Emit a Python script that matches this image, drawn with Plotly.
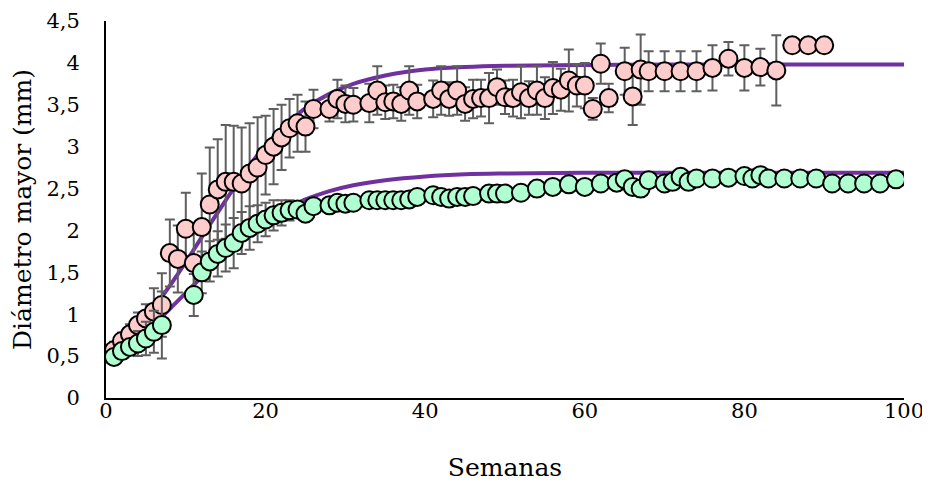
import plotly.graph_objects as go

# Pink series (weeks, mean diameter, error)
pink_weeks = [1, 2, 3, 4, 5, 6, 7, 8, 9, 10, 11, 12, 13, 14, 15, 16, 17, 18, 19, 20,
              21, 22, 23, 24, 25, 26, 28, 29, 30, 31, 33, 34, 35, 36, 37, 38, 39,
              41, 42, 43, 44, 45, 46, 47, 48, 49, 50, 51, 52, 53, 54, 55, 56, 57,
              58, 59, 60, 61, 62, 63, 65, 66, 67, 68, 70, 72, 74, 76, 78, 80, 82,
              84, 86, 88, 90]
pink_vals = [0.57, 0.68, 0.76, 0.87, 0.95, 1.03, 1.11, 1.73, 1.66, 2.02, 1.61, 2.04,
             2.31, 2.49, 2.58, 2.58, 2.56, 2.68, 2.75, 2.9, 3.0, 3.11, 3.22, 3.28,
             3.24, 3.45, 3.45, 3.57, 3.51, 3.5, 3.52, 3.67, 3.53, 3.54, 3.51, 3.67,
             3.54, 3.57, 3.67, 3.57, 3.67, 3.51, 3.57, 3.58, 3.58, 3.71, 3.59, 3.58,
             3.65, 3.58, 3.67, 3.58, 3.7, 3.68, 3.79, 3.73, 3.73, 3.45, 3.99, 3.58,
             3.9, 3.6, 3.92, 3.9, 3.9, 3.9, 3.9, 3.94, 4.05, 3.94, 3.95, 3.91,
             4.21, 4.21, 4.21]
pink_err = [0.1, 0.1, 0.12, 0.15, 0.17, 0.28, 0.38, 0.4, 0.4, 0.43, 0.45, 0.64,
            0.68, 0.6, 0.68, 0.67, 0.67, 0.6, 0.6, 0.47, 0.45, 0.39, 0.35, 0.34,
            0.3, 0.23, 0.15, 0.23, 0.22, 0.2, 0.23, 0.29, 0.2, 0.2, 0.2, 0.29,
            0.2, 0.22, 0.29, 0.2, 0.29, 0.2, 0.23, 0.22, 0.3, 0.21, 0.2, 0.22,
            0.31, 0.2, 0.29, 0.25, 0.31, 0.25, 0.37, 0.25, 0.27, 0.13, 0.24, 0.17,
            0.28, 0.34, 0.42, 0.24, 0.24, 0.24, 0.24, 0.27, 0.2, 0.27, 0.22, 0.42,
            0, 0, 0]

# Green series
green_weeks = [1, 2, 3, 4, 5, 6, 7, 11, 12, 13, 14, 15, 16, 17, 18, 19, 20, 21, 22,
               23, 24, 25, 26, 28, 29, 30, 31, 33, 34, 35, 36, 37, 38, 39, 41, 42,
               43, 44, 45, 46, 48, 49, 50, 52, 54, 56, 58, 60, 62, 64, 65, 66, 67,
               68, 70, 71, 72, 73, 74, 76, 78, 80, 81, 82, 83, 85, 87, 89, 91, 93,
               95, 97, 99]
green_vals = [0.49, 0.56, 0.61, 0.65, 0.71, 0.79, 0.87, 1.23, 1.5, 1.63, 1.72, 1.79,
              1.85, 1.97, 2.03, 2.08, 2.13, 2.18, 2.21, 2.24, 2.25, 2.2, 2.29, 2.3,
              2.33, 2.32, 2.33, 2.36, 2.36, 2.36, 2.36, 2.36, 2.37, 2.4, 2.42, 2.4,
              2.38, 2.4, 2.4, 2.41, 2.44, 2.44, 2.44, 2.45, 2.5, 2.52, 2.55, 2.52,
              2.56, 2.57, 2.61, 2.52, 2.5, 2.6, 2.56, 2.58, 2.64, 2.58, 2.62, 2.62,
              2.63, 2.65, 2.62, 2.66, 2.62, 2.62, 2.62, 2.62, 2.56, 2.56, 2.56, 2.56,
              2.61]
green_err = [0.05, 0.06, 0.08, 0.15, 0.2, 0.25, 0.4, 0.25, 0.25, 0.24, 0.27, 0.28,
             0.3, 0.25, 0.26, 0.22, 0.2, 0.18, 0.15, 0.12, 0.1, 0.08, 0.06, 0.05,
             0.05, 0.05, 0.05, 0.05, 0.05, 0.05, 0.05, 0.05, 0.05, 0.05, 0.05, 0.05,
             0.05, 0.05, 0.05, 0.05, 0.05, 0.05, 0.05, 0.05, 0.05, 0.05, 0.05, 0.05,
             0.05, 0.05, 0.05, 0.07, 0.07, 0.05, 0.07, 0.05, 0.05, 0.05, 0.05, 0.05,
             0.05, 0.05, 0.05, 0.05, 0.05, 0.05, 0.05, 0.05, 0.05, 0.05, 0.05, 0.05,
             0.05]

# Fitted trend curves
curve_weeks = [1, 3, 5, 7, 9, 11, 13, 15, 17, 19, 21, 23, 25, 28, 31, 35, 40, 45, 50,
               60, 70, 80, 90, 100]
pink_curve = [0.6, 0.77, 0.97, 1.21, 1.48, 1.77, 2.07, 2.36, 2.64, 2.9, 3.12, 3.3,
              3.46, 3.63, 3.75, 3.85, 3.92, 3.95, 3.965, 3.975, 3.98, 3.98, 3.98, 3.98]
green_curve = [0.52, 0.65, 0.8, 0.97, 1.16, 1.35, 1.54, 1.72, 1.89, 2.04, 2.17, 2.28,
               2.37, 2.47, 2.54, 2.6, 2.645, 2.67, 2.68, 2.688, 2.69, 2.69, 2.69, 2.69]

x_ticks = [0, 20, 40, 60, 80, 100]
y_ticks = [0, 0.5, 1, 1.5, 2, 2.5, 3, 3.5, 4, 4.5]

FONT = "DejaVu Serif"
PURPLE = "#7030A0"
ERRC = "#5f5f5f"

fig = go.Figure()
for cv in (pink_curve, green_curve):
    fig.add_trace(go.Scatter(x=curve_weeks, y=cv, mode="lines",
                             line=dict(color=PURPLE, width=4, shape="spline"),
                             hoverinfo="skip", showlegend=False))

fig.add_trace(go.Scatter(
    x=pink_weeks, y=pink_vals, mode="markers",
    marker=dict(size=18, color="#FFCCCC", line=dict(color="black", width=2)),
    error_y=dict(type="data", array=pink_err, color=ERRC, thickness=2, width=5),
    showlegend=False))
fig.add_trace(go.Scatter(
    x=green_weeks, y=green_vals, mode="markers",
    marker=dict(size=18, color="#B0FFD0", line=dict(color="black", width=2)),
    error_y=dict(type="data", array=green_err, color=ERRC, thickness=2, width=5),
    showlegend=False))

# the page body adds an 8 px offset, so the figure is sized to the remaining space
fig.update_layout(
    width=922, height=477,
    margin=dict(l=98, r=26, t=13, b=87),
    paper_bgcolor="white", plot_bgcolor="white",
    separators=",.",
    font=dict(family=FONT, size=21, color="black"),
    xaxis=dict(range=[0, 100], tickvals=x_ticks, showgrid=False, zeroline=False,
               showline=True, linecolor="black", linewidth=2, ticks="",
               automargin=False, ticklabelstandoff=-7,
               title=dict(text="Semanas", standoff=36),
               tickfont=dict(size=21)),
    yaxis=dict(range=[0, 4.5], tickvals=y_ticks, showgrid=False, zeroline=False,
               showline=True, linecolor="black", linewidth=2, ticks="",
               automargin=False, ticklabelstandoff=20,
               title=dict(text="Diámetro mayor (mm)", standoff=12),
               tickfont=dict(size=21)),
)

fig.write_html("out.html")
